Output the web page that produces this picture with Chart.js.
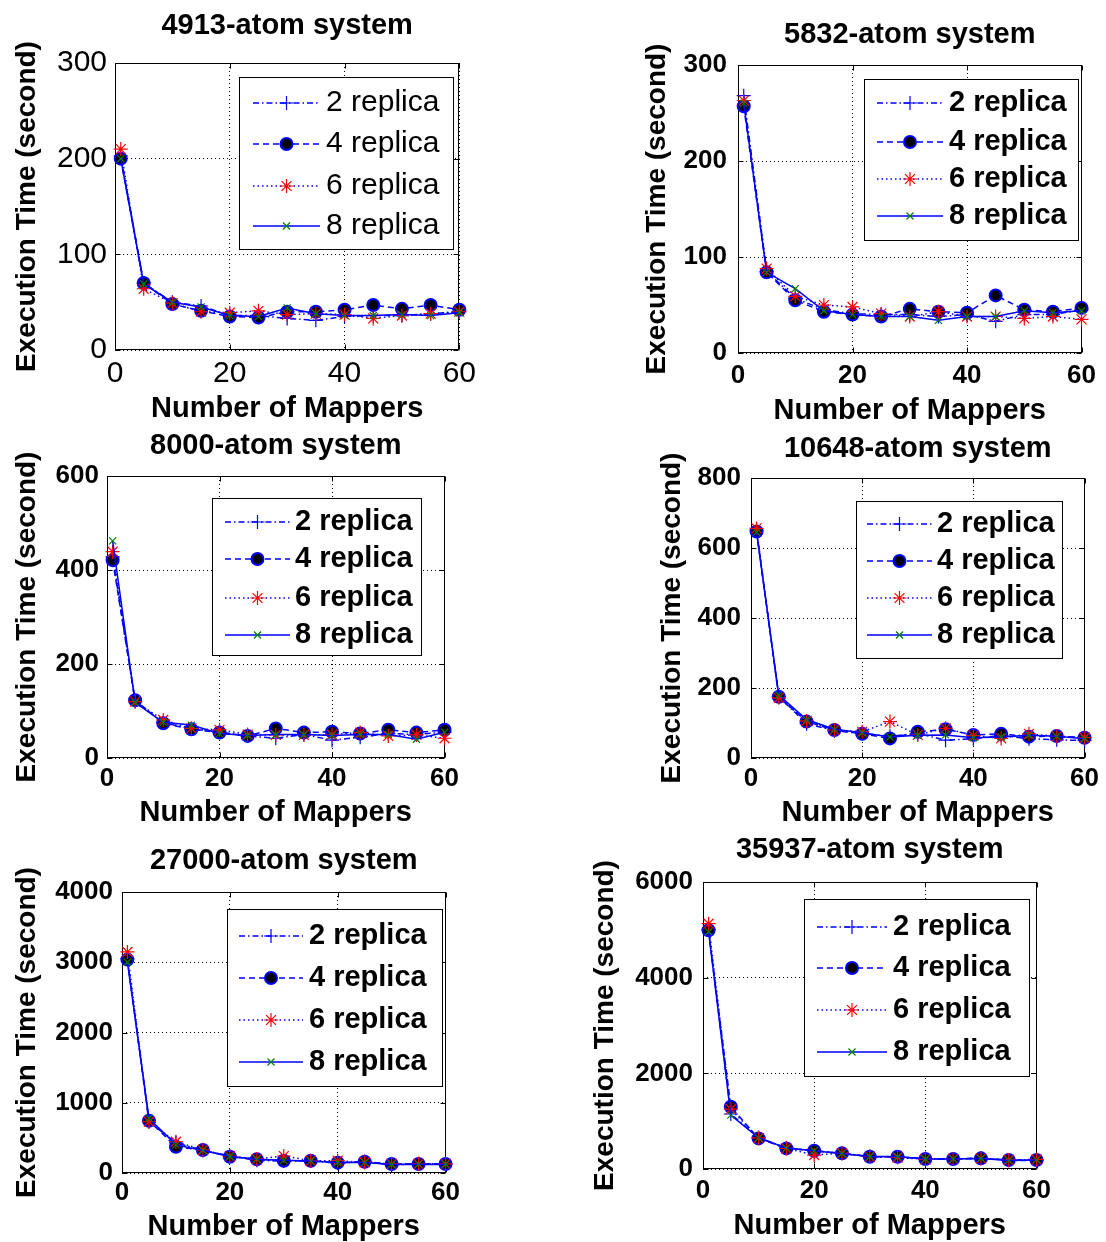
<!DOCTYPE html>
<html>
<head>
<meta charset="utf-8">
<title>Execution time vs number of mappers</title>
<script src="https://cdn.jsdelivr.net/npm/chart.js@4.4.1/dist/chart.umd.min.js"></script>
<style>
  html, body { margin: 0; padding: 0; background: #fff; overflow: hidden; }
  body { width: 1106px; height: 1242px; position: relative; }
  canvas { position: absolute; }
</style>
</head>
<body>
<script>
// x values: number of mappers per run
const mappers = [1, 5, 10, 15, 20, 25, 30, 35, 40, 45, 50, 55, 60];
const replicaLabels = ['2 replica', '4 replica', '6 replica', '8 replica'];
const xTicks = [0, 20, 40, 60];

// execution time (s) for each system size and replica count
const time4913_r2 = [203, 70, 50, 46, 36, 36, 33, 31, 35, 36, 36, 38, 40];
const time4913_r4 = [200, 70, 48, 41, 35, 34, 40, 40, 42, 47, 43, 47, 42];
const time4913_r6 = [210, 64, 49, 40, 39, 41, 37, 38, 37, 33, 36, 38, 40];
const time4913_r8 = [200, 69, 50, 45, 36, 35, 44, 38, 36, 36, 37, 36, 39];
const yTicks4913 = [0, 100, 200, 300];

const time5832_r2 = [268, 85, 57, 45, 41, 40, 40, 38, 40, 33, 40, 40, 45];
const time5832_r4 = [257, 84, 55, 43, 40, 38, 46, 43, 42, 60, 45, 43, 47];
const time5832_r6 = [263, 88, 59, 50, 48, 41, 38, 43, 38, 38, 36, 38, 35];
const time5832_r8 = [260, 84, 67, 44, 40, 38, 38, 34, 38, 38, 44, 42, 44];
const yTicks5832 = [0, 100, 200, 300];

const time8000_r2 = [428, 120, 75, 62, 55, 47, 42, 50, 38, 44, 52, 50, 55];
const time8000_r4 = [421, 123, 74, 61, 54, 47, 63, 54, 56, 52, 60, 54, 60];
const time8000_r6 = [439, 120, 81, 63, 60, 50, 49, 49, 50, 54, 47, 49, 42];
const time8000_r8 = [462, 118, 76, 70, 52, 48, 50, 50, 48, 50, 50, 40, 55];
const yTicks8000 = [0, 200, 400, 600];

const time10648_r2 = [650, 175, 98, 78, 70, 62, 70, 51, 55, 65, 55, 52, 50];
const time10648_r4 = [647, 175, 104, 80, 69, 56, 75, 82, 66, 69, 61, 63, 58];
const time10648_r6 = [656, 172, 106, 80, 75, 104, 66, 85, 64, 56, 69, 62, 58];
const time10648_r8 = [645, 180, 110, 82, 72, 60, 65, 66, 58, 60, 65, 62, 55];
const yTicks10648 = [0, 200, 400, 600, 800];

const time27000_r2 = [3050, 730, 430, 320, 240, 180, 170, 170, 140, 165, 115, 130, 130];
const time27000_r4 = [3038, 744, 374, 327, 232, 194, 175, 175, 147, 161, 128, 128, 128];
const time27000_r6 = [3147, 730, 445, 330, 240, 200, 242, 175, 175, 150, 130, 130, 130];
const time27000_r8 = [3000, 780, 400, 320, 235, 195, 180, 170, 150, 150, 120, 125, 120];
const yTicks27000 = [0, 1000, 2000, 3000, 4000];

const time35937_r2 = [5000, 1150, 660, 440, 380, 330, 260, 250, 220, 210, 230, 180, 180];
const time35937_r4 = [4990, 1301, 640, 431, 383, 327, 257, 257, 209, 209, 223, 188, 188];
const time35937_r6 = [5129, 1250, 650, 430, 292, 330, 260, 240, 200, 210, 220, 190, 200];
const time35937_r8 = [4960, 1127, 650, 440, 380, 320, 260, 260, 210, 210, 220, 180, 190];
const yTicks35937 = [0, 2000, 4000, 6000];

const panelTitles = ['4913-atom system', '5832-atom system', '8000-atom system',
                     '10648-atom system', '27000-atom system', '35937-atom system'];
const panelSeries = [
  [time4913_r2, time4913_r4, time4913_r6, time4913_r8],
  [time5832_r2, time5832_r4, time5832_r6, time5832_r8],
  [time8000_r2, time8000_r4, time8000_r6, time8000_r8],
  [time10648_r2, time10648_r4, time10648_r6, time10648_r8],
  [time27000_r2, time27000_r4, time27000_r6, time27000_r8],
  [time35937_r2, time35937_r4, time35937_r6, time35937_r8]
];
const panelYTicks = [yTicks4913, yTicks5832, yTicks8000, yTicks10648, yTicks27000, yTicks35937];

// page placement of each subplot (plot box, text anchors, legend box)
const layouts = [
  { plot: [115, 63, 467, 350], titleY: 25.5, yLabelX: 27, yTickRight: 107, xTickY: 374, xLabelY: 408, plain: true,
    legend: { box: [239, 77, 454, 250], rows: [103, 144, 186, 226], line: [253, 320], textX: 326 } },
  { plot: [738, 65, 1088, 353], titleY: 34, yLabelX: 657, yTickRight: 727, xTickY: 376, xLabelY: 410,
    legend: { box: [864, 79, 1079, 241], rows: [103, 142, 179, 216], line: [877, 943], textX: 949 } },
  { plot: [107, 476, 449, 758], titleY: 445, yLabelX: 27, yTickRight: 99, xTickY: 779, xLabelY: 812,
    legend: { box: [212, 498, 422, 656], rows: [522, 559, 598, 635], line: [225, 290], textX: 295 } },
  { plot: [751, 478, 1089, 758], titleY: 448, yLabelX: 672, yTickRight: 741, xTickY: 779, xLabelY: 812,
    legend: { box: [856, 501, 1063, 659], rows: [524, 561, 598, 635], line: [867, 932], textX: 937 } },
  { plot: [122, 892, 449, 1173], titleY: 860, yLabelX: 27, yTickRight: 113, xTickY: 1193, xLabelY: 1226,
    legend: { box: [227, 909, 443, 1087], rows: [936, 978, 1020, 1062], line: [239, 303], textX: 309 } },
  { plot: [703, 882, 1042, 1169], titleY: 849, yLabelX: 605, yTickRight: 693, xTickY: 1191, xLabelY: 1225,
    legend: { box: [804, 899, 1030, 1077], rows: [927, 968, 1010, 1052], line: [817, 887], textX: 893 } }
];

const FONT = "'Liberation Sans', Arial, Helvetica, sans-serif";
const BLUE = '#0000ff';

// MATLAB-like line specs: '-.+', '--o', ':*', '-x'
const seriesStyles = [
  { borderDash: [6, 3, 1.5, 3], pointStyle: 'cross', pointRadius: 7, pointBorderColor: BLUE, pointBackgroundColor: BLUE, pointBorderWidth: 1.2 },
  { borderDash: [6, 4], pointStyle: 'circle', pointRadius: 6, pointBorderColor: BLUE, pointBackgroundColor: '#000000', pointBorderWidth: 2 },
  { borderDash: [1.5, 3], pointStyle: 'star', pointRadius: 7, pointBorderColor: '#ff0000', pointBackgroundColor: '#ff0000', pointBorderWidth: 1.2 },
  { borderDash: [], pointStyle: 'crossRot', pointRadius: 5, pointBorderColor: '#008000', pointBackgroundColor: '#008000', pointBorderWidth: 1.2 }
];

// box around the axes with inward tick marks on all sides
const axesBox = {
  id: 'axesBox',
  beforeDatasetsDraw(chart) {
    const { ctx, chartArea: a, scales: { x, y } } = chart;
    const L = Math.round(a.left) + 0.5, R = Math.round(a.right) - 0.5;
    const T = Math.round(a.top) + 0.5, B = Math.round(a.bottom) - 0.5;
    ctx.save();
    ctx.strokeStyle = '#000';
    ctx.lineWidth = 1;
    ctx.setLineDash([]);
    ctx.strokeRect(L, T, R - L, B - T);
    ctx.beginPath();
    x.ticks.forEach(t => {
      const px = Math.round(x.getPixelForValue(t.value)) + 0.5;
      ctx.moveTo(px, B); ctx.lineTo(px, B - 5);
      ctx.moveTo(px, T); ctx.lineTo(px, T + 5);
    });
    y.ticks.forEach(t => {
      const py = Math.round(y.getPixelForValue(t.value)) + 0.5;
      ctx.moveTo(L, py); ctx.lineTo(L + 5, py);
      ctx.moveTo(R, py); ctx.lineTo(R - 5, py);
    });
    ctx.stroke();
    ctx.restore();
  }
};

// boxed legend with line sample + marker for every dataset
function replicaLegend(lg, cl, ct, font) {
  return {
    id: 'replicaLegend',
    afterDatasetsDraw(chart) {
      const ctx = chart.ctx;
      const bl = lg.box[0] - cl, bt = lg.box[1] - ct, br = lg.box[2] - cl, bb = lg.box[3] - ct;
      ctx.save();
      ctx.fillStyle = '#fff';
      ctx.fillRect(bl, bt, br - bl, bb - bt);
      ctx.strokeStyle = '#000';
      ctx.lineWidth = 1;
      ctx.strokeRect(bl + 0.5, bt + 0.5, br - bl - 1, bb - bt - 1);
      chart.data.datasets.forEach((ds, i) => {
        const y = lg.rows[i] - ct;
        const x1 = lg.line[0] - cl, x2 = lg.line[1] - cl;
        ctx.strokeStyle = ds.borderColor;
        ctx.lineWidth = ds.borderWidth;
        ctx.setLineDash(ds.borderDash);
        ctx.beginPath();
        ctx.moveTo(x1, y);
        ctx.lineTo(x2, y);
        ctx.stroke();
        ctx.setLineDash([]);
        ctx.fillStyle = ds.pointBackgroundColor;
        ctx.strokeStyle = ds.pointBorderColor;
        ctx.lineWidth = ds.pointBorderWidth;
        Chart.helpers.drawPoint(ctx, { pointStyle: ds.pointStyle, radius: ds.pointRadius, borderWidth: ds.pointBorderWidth, rotation: 0 }, (x1 + x2) / 2, y);
        ctx.fillStyle = '#000';
        ctx.font = `${font.weight} ${font.size}px ${FONT}`;
        ctx.textBaseline = 'middle';
        ctx.textAlign = 'left';
        ctx.fillText(ds.label, lg.textX - cl, y);
      });
      ctx.restore();
    }
  };
}

const TITLE_SIZE = 29, YLABEL_SIZE = 28, XLABEL_SIZE = 29;

layouts.forEach((lay, p) => {
  const [L, T, R, B] = lay.plot;
  const tickFont = lay.plain ? { size: 30, weight: 'normal' } : { size: 26, weight: 'bold' };
  const legendFont = lay.plain ? { size: 30, weight: 'normal' } : { size: 29, weight: 'bold' };

  // canvas geometry so that the chart area lands on the plot box
  const cl = Math.round(lay.yLabelX - YLABEL_SIZE / 2 - 2);
  const ct = Math.round(lay.titleY - TITLE_SIZE / 2 - 2);
  const cr = R + 18;
  const cb = Math.round(lay.xLabelY + XLABEL_SIZE / 2 + 2);
  const yAxisW = L - cl;
  const xAxisH = cb - B;
  const titlePadBottom = T - ct - 2 - TITLE_SIZE;

  const canvas = document.createElement('canvas');
  canvas.width = cr - cl;
  canvas.height = cb - ct;
  canvas.style.left = cl + 'px';
  canvas.style.top = ct + 'px';
  document.body.appendChild(canvas);

  const yt = panelYTicks[p];
  const datasets = panelSeries[p].map((vals, i) => Object.assign({
    label: replicaLabels[i],
    data: vals.map((v, k) => ({ x: mappers[k], y: v })),
    borderColor: BLUE,
    borderWidth: 1.5,
    fill: false,
    tension: 0,
    clip: false,
    order: replicaLabels.length - i,
    pointHoverRadius: seriesStyles[i].pointRadius
  }, seriesStyles[i]));

  new Chart(canvas, {
    type: 'line',
    data: { datasets },
    options: {
      responsive: false,
      animation: false,
      devicePixelRatio: 1,
      events: [],
      layout: { padding: { left: 0, top: 0, right: cr - R, bottom: 0 } },
      plugins: {
        legend: { display: false },
        tooltip: { enabled: false },
        title: {
          display: true,
          text: panelTitles[p],
          fullSize: false,
          color: '#000',
          font: { family: FONT, size: TITLE_SIZE, weight: 'bold', lineHeight: 1 },
          padding: { top: 2, bottom: titlePadBottom }
        }
      },
      scales: {
        x: {
          type: 'linear',
          position: 'bottom',
          min: xTicks[0],
          max: xTicks[xTicks.length - 1],
          afterBuildTicks: s => { s.ticks = xTicks.map(v => ({ value: v })); },
          ticks: {
            color: '#000',
            font: { family: FONT, size: tickFont.size, weight: tickFont.weight, lineHeight: 1 },
            padding: lay.xTickY - B - tickFont.size / 2,
            maxRotation: 0, minRotation: 0, autoSkip: false,
            callback: v => String(v)
          },
          grid: { color: '#000', lineWidth: 1, drawTicks: false },
          border: { display: false, dash: [1, 3] },
          title: {
            display: true,
            text: 'Number of Mappers',
            color: '#000',
            font: { family: FONT, size: XLABEL_SIZE, weight: 'bold', lineHeight: 1 },
            padding: { top: 0, bottom: 2 }
          },
          afterFit: s => { s.height = xAxisH; }
        },
        y: {
          type: 'linear',
          position: 'left',
          min: yt[0],
          max: yt[yt.length - 1],
          afterBuildTicks: s => { s.ticks = yt.map(v => ({ value: v })); },
          ticks: {
            color: '#000',
            font: { family: FONT, size: tickFont.size, weight: tickFont.weight, lineHeight: 1 },
            padding: L - lay.yTickRight,
            callback: v => String(v)
          },
          grid: { color: '#000', lineWidth: 1, drawTicks: false },
          border: { display: false, dash: [1, 3] },
          title: {
            display: true,
            text: 'Execution Time (second)',
            color: '#000',
            font: { family: FONT, size: YLABEL_SIZE, weight: 'bold', lineHeight: 1 },
            padding: { top: 2, bottom: 0 }
          },
          afterFit: s => { s.width = yAxisW; }
        }
      }
    },
    plugins: [axesBox, replicaLegend(lay.legend, cl, ct, legendFont)]
  });
});
</script>
</body>
</html>
